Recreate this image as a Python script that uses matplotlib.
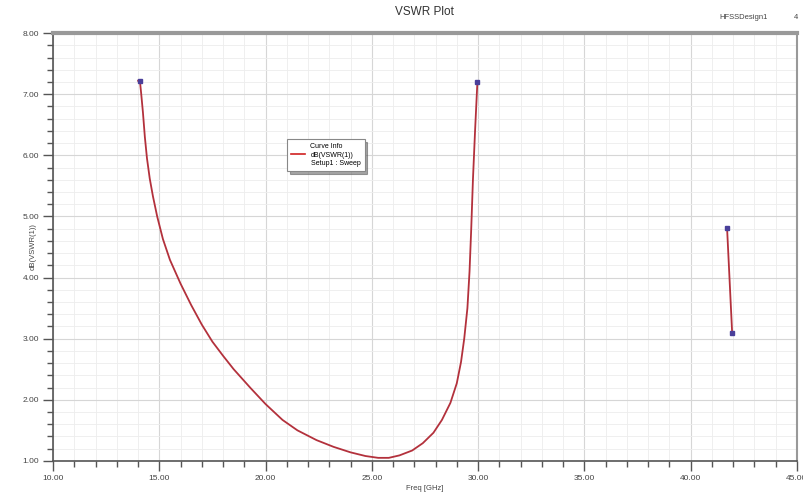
import matplotlib
matplotlib.use("Agg")
import matplotlib.pyplot as plt
from matplotlib.lines import Line2D
from matplotlib.ticker import MultipleLocator, FormatStrFormatter

plt.rcParams["font.family"] = ["Liberation Sans", "DejaVu Sans"]

# main sweep curve, dB(VSWR(1)) vs frequency
freq_ghz = [14.0, 14.09, 14.15, 14.23, 14.32, 14.42, 14.55, 14.7, 14.9, 15.17,
            15.5, 16.0, 16.5, 17.0, 17.5, 18.0, 18.5, 19.3, 20.0, 20.8, 21.5,
            22.4, 23.2, 24.0, 24.7, 25.3, 25.8, 26.3, 26.9, 27.4, 27.9, 28.3,
            28.7, 29.0, 29.2, 29.35, 29.5, 29.6, 29.68, 29.76, 29.86, 29.97]
vswr_db = [7.22, 7.21, 7.0, 6.7, 6.3, 5.95, 5.62, 5.33, 5.0, 4.63,
           4.29, 3.90, 3.55, 3.23, 2.95, 2.72, 2.50, 2.19, 1.93, 1.67, 1.50,
           1.34, 1.23, 1.14, 1.08, 1.05, 1.05, 1.09, 1.17, 1.29, 1.46, 1.67,
           1.95, 2.27, 2.62, 3.0, 3.5, 4.1, 4.8, 5.6, 6.4, 7.20]

# short separate segment near 42 GHz
freq2_ghz = [41.72, 41.96]
vswr2_db = [4.81, 3.09]

curve_color = "#b3313c"
marker_color = "#4a3f9a"

fig = plt.figure(figsize=(8.04, 4.94), dpi=100)
ax = fig.add_axes([0.066, 0.067, 0.925, 0.866])

ax.plot(freq_ghz, vswr_db, color=curve_color, linewidth=1.3)
ax.plot(freq2_ghz, vswr2_db, color=curve_color, linewidth=1.3)
ax.plot([freq_ghz[1], freq_ghz[-1]], [vswr_db[1], vswr_db[-1]], linestyle="none",
        marker="s", markersize=3, color=marker_color)
ax.plot(freq2_ghz, vswr2_db, linestyle="none", marker="s", markersize=3, color=marker_color)

ax.set_xlim(10, 45)
ax.set_ylim(1, 8)
ax.xaxis.set_major_locator(MultipleLocator(5))
ax.xaxis.set_minor_locator(MultipleLocator(1))
ax.yaxis.set_major_locator(MultipleLocator(1))
ax.yaxis.set_minor_locator(MultipleLocator(0.2))
ax.xaxis.set_major_formatter(FormatStrFormatter("%.2f"))
ax.yaxis.set_major_formatter(FormatStrFormatter("%.2f"))
ax.tick_params(which="major", direction="out", length=7, width=1, color="#555555",
               labelsize=6, labelcolor="#444444", pad=3)
ax.tick_params(which="minor", direction="out", length=4, width=1, color="#555555")

ax.grid(which="major", color="#d6d6d6", linewidth=0.8)
ax.grid(which="minor", color="#ededed", linewidth=0.6)
ax.set_axisbelow(True)

for side in ["left", "bottom"]:
    ax.spines[side].set_color("#555555")
    ax.spines[side].set_linewidth(1.2)
ax.spines["top"].set_color("#999999")
ax.spines["top"].set_linewidth(3)
ax.spines["right"].set_color("#999999")
ax.spines["right"].set_linewidth(1.5)

ax.set_title("VSWR Plot", fontsize=8.5, color="#333333", pad=13)
fig.text(0.955, 0.962, "HFSSDesign1", fontsize=5.5, color="#444444", ha="right")
fig.text(0.993, 0.962, "4", fontsize=5.5, color="#444444", ha="right")
ax.set_xlabel("Freq [GHz]", fontsize=5.5, color="#444444", labelpad=2)
ax.set_ylabel("dB(VSWR(1))", fontsize=5.5, color="#444444", labelpad=-10)

handles = [Line2D([0], [0], color="#d02020", linewidth=1.2),
           Line2D([0], [0], color="none")]
leg = ax.legend(handles, ["dB(VSWR(1))", "Setup1 : Sweep"], title="Curve Info",
                loc="upper left", bbox_to_anchor=(0.31, 0.76), fontsize=5,
                title_fontsize=5, frameon=True, fancybox=False, shadow=True,
                edgecolor="#888888", handlelength=2, borderpad=0.6,
                labelspacing=0.2)
leg.get_frame().set_linewidth(0.8)

fig.savefig("out.png", dpi=100)
